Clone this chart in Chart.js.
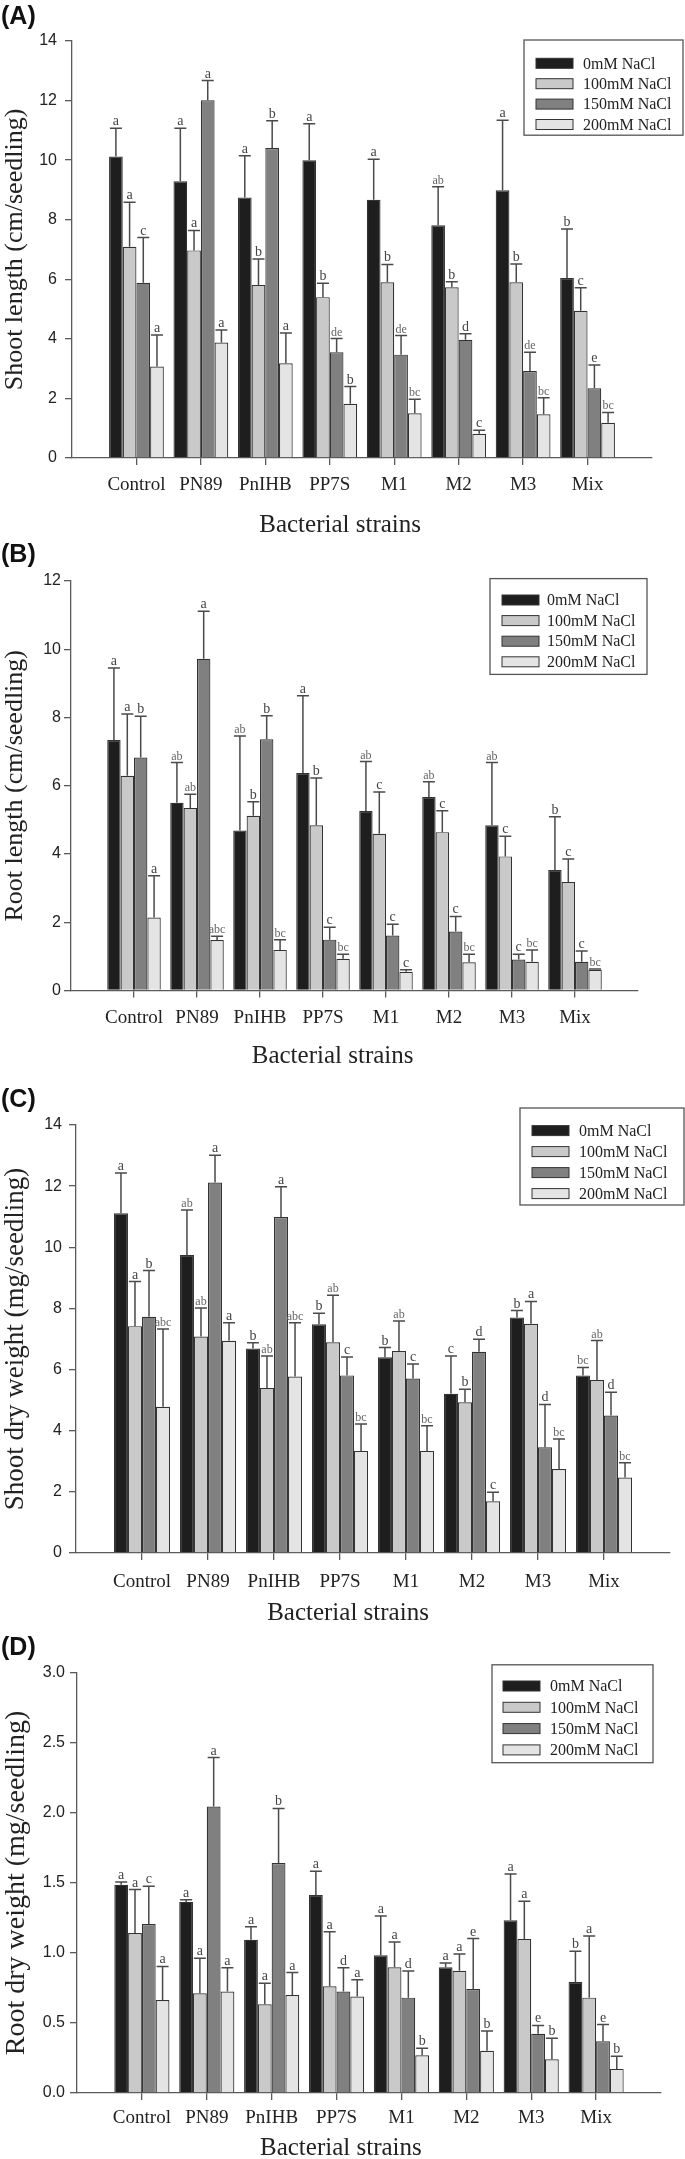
<!DOCTYPE html>
<html>
<head>
<meta charset="utf-8">
<title>Seedling growth under NaCl stress</title>
<script src="https://cdn.jsdelivr.net/npm/chart.js@4.4.1/dist/chart.umd.min.js"></script>
<style>
  html, body { margin: 0; padding: 0; background: #fff; }
  #page { position: relative; width: 685px; height: 2159px; overflow: hidden; }
  #page canvas { position: absolute; left: 0; }
</style>
</head>
<body>
<div id="page">
  <canvas id="panelA"></canvas>
  <canvas id="panelB"></canvas>
  <canvas id="panelC"></canvas>
  <canvas id="panelD"></canvas>
</div>
<script>
/* =====================
   DATA
===================== */
const strains = ["Control", "PN89", "PnIHB", "PP7S", "M1", "M2", "M3", "Mix"];
const saltLevels = ["0mM NaCl", "100mM NaCl", "150mM NaCl", "200mM NaCl"];

// (A) shoot length, cm/seedling - one row per salt level
const shootLenMean = [
  [10.12, 9.29, 8.75, 10.0, 8.67, 7.81, 8.99, 6.04],
  [7.09, 6.97, 5.81, 5.40, 5.90, 5.73, 5.90, 4.94],
  [5.88, 12.01, 10.41, 3.55, 3.47, 3.97, 2.92, 2.34],
  [3.07, 3.88, 3.18, 1.82, 1.50, 0.81, 1.47, 1.18]
];
const shootLenSD = [
  [0.95, 1.78, 1.40, 1.22, 1.36, 1.30, 2.35, 1.65],
  [1.50, 0.67, 0.87, 0.47, 0.60, 0.19, 0.61, 0.78],
  [1.52, 0.66, 0.91, 0.46, 0.64, 0.20, 0.63, 0.78],
  [1.06, 0.42, 1.02, 0.58, 0.47, 0.12, 0.55, 0.35]
];
const shootLenLetters = [
  ["a", "a", "a", "a", "a", "ab", "a", "b"],
  ["a", "a", "b", "b", "b", "b", "b", "c"],
  ["c", "a", "b", "de", "de", "d", "de", "e"],
  ["a", "a", "a", "b", "bc", "c", "bc", "bc"]
];

// (B) root length, cm/seedling
const rootLenMean = [
  [7.34, 5.50, 4.69, 6.37, 5.26, 5.67, 4.84, 3.53],
  [6.29, 5.35, 5.12, 4.84, 4.59, 4.64, 3.93, 3.18],
  [6.83, 9.72, 7.36, 1.49, 1.61, 1.73, 0.91, 0.84],
  [2.14, 1.48, 1.19, 0.93, 0.55, 0.83, 0.84, 0.61]
];
const rootLenSD = [
  [2.11, 1.18, 2.77, 2.27, 1.45, 0.45, 1.84, 1.56],
  [1.81, 0.40, 0.41, 1.39, 1.23, 0.63, 0.59, 0.67],
  [1.21, 1.39, 0.69, 0.36, 0.33, 0.44, 0.15, 0.32],
  [1.22, 0.11, 0.30, 0.13, 0.06, 0.23, 0.35, 0.02]
];
const rootLenLetters = [
  ["a", "ab", "ab", "a", "ab", "ab", "ab", "b"],
  ["a", "ab", "b", "b", "c", "c", "c", "c"],
  ["b", "a", "b", "c", "c", "c", "c", "c"],
  ["a", "abc", "bc", "bc", "c", "bc", "bc", "bc"]
];

// (C) shoot dry weight, mg/seedling
const shootDwMean = [
  [11.11, 9.75, 6.69, 7.48, 6.40, 5.21, 7.70, 5.81],
  [7.42, 7.08, 5.40, 6.89, 6.61, 4.93, 7.50, 5.66],
  [7.73, 12.12, 10.99, 5.81, 5.71, 6.58, 3.46, 4.50],
  [4.78, 6.94, 5.77, 3.34, 3.34, 1.69, 2.75, 2.47]
];
const shootDwSD = [
  [1.32, 1.47, 0.19, 0.36, 0.32, 1.23, 0.23, 0.26],
  [1.46, 0.93, 1.04, 1.54, 0.98, 0.43, 0.73, 1.29],
  [1.51, 0.89, 0.99, 0.60, 0.47, 0.41, 1.40, 0.76],
  [2.55, 0.59, 1.76, 0.88, 0.82, 0.30, 0.98, 0.48]
];
const shootDwLetters = [
  ["a", "ab", "b", "b", "b", "c", "b", "bc"],
  ["a", "ab", "ab", "ab", "ab", "b", "a", "ab"],
  ["b", "a", "a", "c", "c", "d", "d", "d"],
  ["abc", "a", "abc", "bc", "bc", "c", "bc", "bc"]
];

// (D) root dry weight, mg/seedling
const rootDwMean = [
  [1.488, 1.365, 1.094, 1.414, 0.984, 0.898, 1.234, 0.792],
  [1.143, 0.713, 0.634, 0.762, 0.898, 0.873, 1.10, 0.681],
  [1.207, 2.046, 1.643, 0.725, 0.681, 0.743, 0.423, 0.369],
  [0.664, 0.725, 0.70, 0.689, 0.27, 0.302, 0.241, 0.172]
];
const rootDwSD = [
  [0.02, 0.015, 0.094, 0.17, 0.28, 0.03, 0.33, 0.22],
  [0.31, 0.25, 0.15, 0.39, 0.18, 0.12, 0.27, 0.44],
  [0.27, 0.35, 0.39, 0.17, 0.19, 0.36, 0.06, 0.12],
  [0.24, 0.17, 0.16, 0.12, 0.05, 0.14, 0.15, 0.09]
];
const rootDwLetters = [
  ["a", "a", "a", "a", "a", "a", "a", "b"],
  ["a", "a", "a", "a", "a", "a", "a", "a"],
  ["c", "a", "b", "d", "d", "e", "e", "e"],
  ["a", "a", "a", "a", "b", "b", "b", "b"]
];

const shootLenTicks = [0, 2, 4, 6, 8, 10, 12, 14];
const rootLenTicks = [0, 2, 4, 6, 8, 10, 12];
const shootDwTicks = [0, 2, 4, 6, 8, 10, 12, 14];
const rootDwTicks = [0, 0.5, 1.0, 1.5, 2.0, 2.5, 3.0];

/* =====================
   STYLE
===================== */
const SERIF = '"Liberation Serif", "Times New Roman", serif';
const SANS = '"Liberation Sans", Arial, sans-serif';
const barColors = ["#1e1e1e", "#c9c9c9", "#808080", "#e4e4e4"];
const AXIS = "#5a5a5a";
const INK = "#222";

/* =====================
   ERROR BARS, LETTERS, LEGEND BOX
===================== */
const panelExtras = {
  id: "panelExtras",
  afterDatasetsDraw(chart, args, opts) {
    const ctx = chart.ctx;
    const y = chart.scales.y;
    ctx.save();
    ctx.strokeStyle = "#4a4a4a";
    ctx.lineWidth = 1.5;
    ctx.textAlign = "center";
    ctx.textBaseline = "alphabetic";
    chart.data.datasets.forEach((ds, i) => {
      const meta = chart.getDatasetMeta(i);
      meta.data.forEach((bar, j) => {
        const v = ds.data[j];
        if (v == null) return;
        const top = y.getPixelForValue(v + ds.sd[j]);
        ctx.beginPath();
        ctx.moveTo(bar.x, bar.y);
        ctx.lineTo(bar.x, top);
        ctx.moveTo(bar.x - 6, top);
        ctx.lineTo(bar.x + 6, top);
        ctx.stroke();
        const txt = ds.letters[j];
        if (txt.length > 1) {
          ctx.font = "12px " + SERIF;
          ctx.fillStyle = "#666";
        } else {
          ctx.font = "14px " + SERIF;
          ctx.fillStyle = "#444";
        }
        ctx.fillText(txt, bar.x, top - 3);
      });
    });
    ctx.restore();
  },
  afterDraw(chart, args, opts) {
    const ctx = chart.ctx;
    const L = opts.legend;
    ctx.save();
    // panel tag
    ctx.fillStyle = "#111";
    ctx.font = "bold 25px " + SANS;
    ctx.textBaseline = "middle";
    ctx.textAlign = "left";
    ctx.fillText(opts.tag, 1, opts.tagY);
    // legend box
    const h = 34 + 3 * L.dy;
    ctx.strokeStyle = "#555";
    ctx.lineWidth = 1.3;
    ctx.strokeRect(L.x, L.y, L.w, h);
    ctx.font = "16px " + SERIF;
    chart.data.datasets.forEach((ds, i) => {
      const ry = L.row0 + i * L.dy;
      ctx.fillStyle = ds.backgroundColor;
      ctx.fillRect(L.swatchX, ry - 5, 37, 10);
      ctx.strokeStyle = "#333";
      ctx.lineWidth = 1;
      ctx.strokeRect(L.swatchX, ry - 5, 37, 10);
      ctx.fillStyle = INK;
      ctx.fillText(ds.label, L.textX, ry + 1);
    });
    ctx.restore();
  }
};

/* =====================
   PANELS
===================== */
function makePanel(id, cfg) {
  const canvas = document.getElementById(id);
  const a = cfg.area;
  const xH = cfg.titleOff + 15;
  canvas.width = 685;
  canvas.height = a.bottom + xH;
  canvas.style.top = cfg.top + "px";

  const labels = ["", ...strains, ""];
  const datasets = saltLevels.map((s, i) => ({
    label: s,
    data: [null, ...cfg.means[i], null],
    sd: [null, ...cfg.sd[i], null],
    letters: ["", ...cfg.letters[i], ""],
    backgroundColor: barColors[i],
    borderColor: "#333",
    borderWidth: 1.2,
    categoryPercentage: 0.85,
    barPercentage: 1.0
  }));

  new Chart(canvas, {
    type: "bar",
    data: { labels, datasets },
    plugins: [panelExtras],
    options: {
      responsive: false,
      animation: false,
      events: [],
      layout: { padding: { top: a.top, right: 685 - a.right, left: 0, bottom: 0 } },
      plugins: {
        legend: { display: false },
        tooltip: { enabled: false },
        panelExtras: { tag: cfg.tag, tagY: cfg.tagY, legend: cfg.legend }
      },
      scales: {
        x: {
          offset: false,
          grid: {
            offset: false,
            drawOnChartArea: false,
            tickLength: 7,
            lineWidth: 1.3,
            tickColor: c => (labels[c.index] ? AXIS : "rgba(0,0,0,0)")
          },
          border: { color: AXIS, width: 1.3 },
          ticks: {
            autoSkip: false,
            maxRotation: 0,
            padding: cfg.labelOff - 7 - 11.4,
            color: INK,
            font: { family: SERIF, size: 19 }
          },
          title: {
            display: true,
            // trailing spaces pull the centred title left, as in the source figure
            text: "Bacterial strains" + " ".repeat(cfg.titleShift),
            color: INK,
            padding: 0,
            font: { family: SERIF, size: 25 }
          },
          afterFit: s => { s.height = xH; }
        },
        y: {
          min: cfg.ticks[0],
          max: cfg.ticks[cfg.ticks.length - 1],
          afterBuildTicks: s => { s.ticks = cfg.ticks.map(v => ({ value: v })); },
          grid: { drawOnChartArea: false, tickLength: 7, lineWidth: 1.3, tickColor: AXIS },
          border: { color: AXIS, width: 1.3 },
          ticks: {
            padding: cfg.yPad,
            color: INK,
            font: { family: SANS, size: 16 },
            callback: v => (cfg.decimals ? v.toFixed(1) : v)
          },
          title: {
            display: true,
            text: cfg.yTitle,
            color: INK,
            padding: 0,
            font: { family: SERIF, size: cfg.yTitleSize }
          },
          afterFit: s => { s.width = a.left; }
        }
      }
    }
  });
}

makePanel("panelA", {
  top: 0, tag: "(A)", tagY: 17,
  area: { top: 41, bottom: 458, left: 72, right: 652 },
  labelOff: 27.5, titleOff: 67, titleShift: 7, yPad: 8,
  yTitle: "Shoot length (cm/seedling)", yTitleSize: 26,
  ticks: shootLenTicks,
  means: shootLenMean, sd: shootLenSD, letters: shootLenLetters,
  legend: { x: 524, y: 40, w: 159, row0: 63.3, dy: 20.4, swatchX: 536, textX: 583 }
});

makePanel("panelB", {
  top: 540, tag: "(B)", tagY: 15.5,
  area: { top: 41, bottom: 451, left: 71, right: 638 },
  labelOff: 27.6, titleOff: 65.5, titleShift: 7, yPad: 3,
  yTitle: "Root length (cm/seedling)", yTitleSize: 26,
  ticks: rootLenTicks,
  means: rootLenMean, sd: rootLenSD, letters: rootLenLetters,
  legend: { x: 490, y: 38.6, w: 157, row0: 60, dy: 20.6, swatchX: 502, textX: 547 }
});

makePanel("panelC", {
  top: 1080, tag: "(C)", tagY: 20,
  area: { top: 45, bottom: 473, left: 76, right: 670 },
  labelOff: 29, titleOff: 60, titleShift: 8, yPad: 7,
  yTitle: "Shoot dry weight (mg/seedling)", yTitleSize: 27,
  ticks: shootDwTicks,
  means: shootDwMean, sd: shootDwSD, letters: shootDwLetters,
  legend: { x: 520, y: 28, w: 164, row0: 50.6, dy: 21, swatchX: 532, textX: 579 }
});

makePanel("panelD", {
  top: 1620, tag: "(D)", tagY: 28.5,
  area: { top: 53, bottom: 473, left: 77, right: 661 },
  labelOff: 25, titleOff: 55, titleShift: 9, yPad: 5, decimals: true,
  yTitle: "Root dry weight (mg/seedling)", yTitleSize: 28,
  ticks: rootDwTicks,
  means: rootDwMean, sd: rootDwSD, letters: rootDwLetters,
  legend: { x: 492, y: 44.8, w: 161, row0: 66, dy: 21.3, swatchX: 503, textX: 550 }
});
</script>
</body>
</html>
